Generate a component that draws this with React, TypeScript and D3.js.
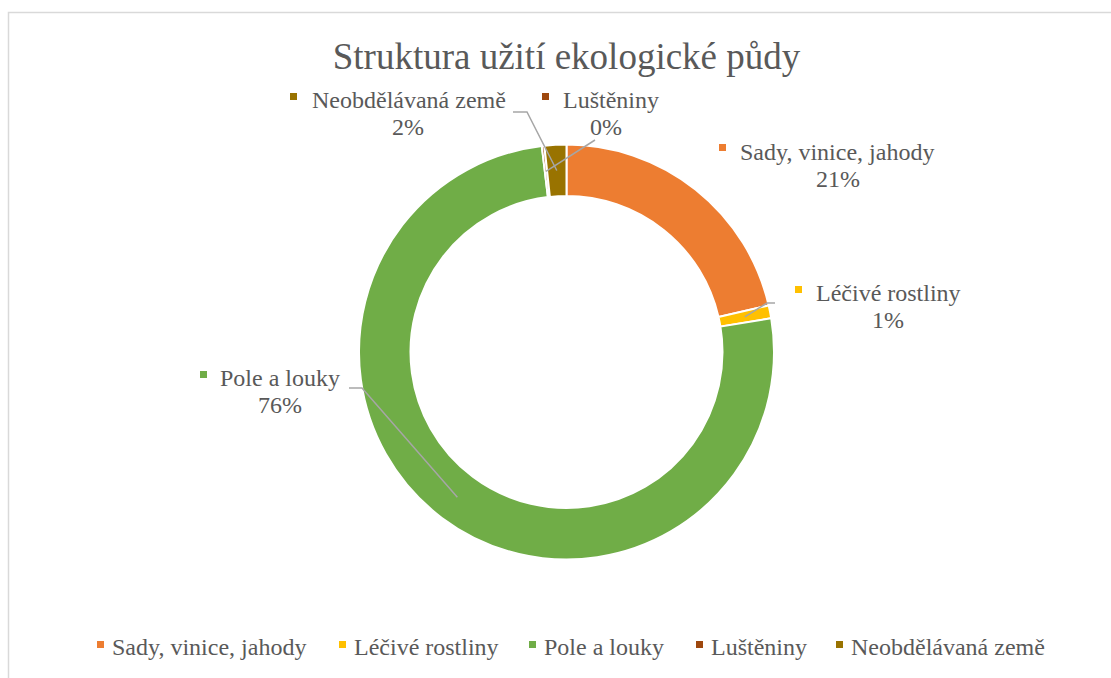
import React from "react";
import * as d3 from "d3";

const categories = ["Sady, vinice, jahody", "Léčivé rostliny", "Pole a louky", "Luštěniny", "Neobdělávaná země"];
const values = [21.4, 1.0, 75.7, 0.2, 1.7];
const colors = ["#ED7D31", "#FFC000", "#70AD47", "#9E480E", "#997300"];
const title = "Struktura užití ekologické půdy";

// layout of data labels (marker, first line start, second line centre, leader start points)
const labelLayout = [
  { mx: 719, my: 144, tx: 740, ty: 160, cx: 838, cy: 187, leader: null },
  { mx: 795, my: 286, tx: 816, ty: 301, cx: 888, cy: 328, leader: [[775, 303], [767, 303]] },
  { mx: 200, my: 371, tx: 220, ty: 386, cx: 280, cy: 413, leader: [[349, 388], [362, 388]] },
  { mx: 542, my: 93, tx: 563, ty: 108, cx: 606, cy: 135, leader: [[595, 140]] },
  { mx: 290, my: 93, tx: 312, ty: 108, cx: 408, cy: 135, leader: [[513, 112], [527, 112]] },
];
const legendX = [97, 339, 529, 696, 836];

const W = 1111;
const H = 678;
const cx = 566.5;
const cy = 352;
const outerR = 207.5;
const innerR = 156;
const font = "Liberation Serif";
const textColor = "#595959";

export default function App() {
  const pie = d3.pie<number>().sort(null).value((d) => d);
  const arcs = pie(values);
  const arc = d3.arc<d3.PieArcDatum<number>>().innerRadius(innerR).outerRadius(outerR);
  const total = d3.sum(values);

  return (
    <svg width={W} height={H} style={{ position: "absolute", left: 0, top: 0 }}>
      <rect x={0} y={0} width={W} height={H} fill="#fff" />
      <rect x={8.5} y={12.5} width={W + 10} height={H + 10} fill="none" stroke="#d9d9d9" strokeWidth={1.5} />
      <text x={cx} y={69} textAnchor="middle" fontFamily={font} fontSize={37} fill={textColor}>
        {title}
      </text>
      <g transform={`translate(${cx},${cy})`}>
        {arcs.map((a, i) => (
          <path key={i} d={arc(a) || ""} fill={colors[i]} stroke="#fff" strokeWidth={2} />
        ))}
      </g>
      {arcs.map((a, i) => {
        const L = labelLayout[i];
        if (!L.leader) return null;
        const c = arc.centroid(a);
        const pts = [...L.leader, [c[0] + cx, c[1] + cy]];
        return (
          <polyline
            key={"l" + i}
            points={pts.map((p) => p.join(",")).join(" ")}
            fill="none"
            stroke="#a6a6a6"
            strokeWidth={1.5}
          />
        );
      })}
      {arcs.map((a, i) => {
        const L = labelLayout[i];
        const pct = Math.round((values[i] / total) * 100) + "%";
        return (
          <g key={"t" + i}>
            <rect x={L.mx} y={L.my} width={7} height={7} fill={colors[i]} />
            <text x={L.tx} y={L.ty} fontFamily={font} fontSize={24} fill={textColor}>{categories[i]}</text>
            <text x={L.cx} y={L.cy} textAnchor="middle" fontFamily={font} fontSize={24} fill={textColor}>{pct}</text>
          </g>
        );
      })}
      {categories.map((c, i) => (
        <g key={"lg" + i}>
          <rect x={legendX[i]} y={641} width={7} height={7} fill={colors[i]} />
          <text x={legendX[i] + 15} y={655} fontFamily={font} fontSize={24} fill={textColor}>{c}</text>
        </g>
      ))}
    </svg>
  );
}
